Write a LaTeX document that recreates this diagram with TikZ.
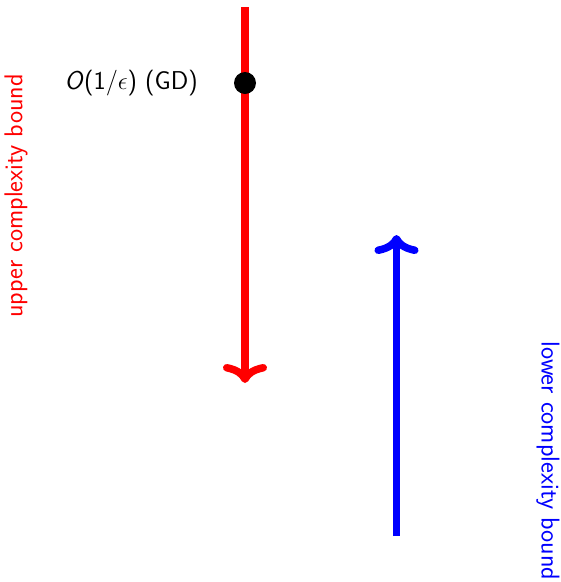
\documentclass[tikz,border=0pt]{standalone}
\usetikzlibrary{arrows.meta}
\begin{document}
\begin{tikzpicture}[x=1pt,y=-1pt,
  bigarrow/.style={line width=7.5pt,-{Computer Modern Rightarrow[width=44pt,length=19pt]}},
  lbl/.style={font=\sffamily\fontsize{25.8}{30}\selectfont,inner sep=0pt}]
\useasboundingbox (0,0) rectangle (561,582);
\coordinate (rtop) at (245,7);
\coordinate (rbot) at (245,383);
\coordinate (bbot) at (396.5,536);
\coordinate (btop) at (396.5,235);
\draw[red,bigarrow] (rtop) -- (rbot);
\draw[blue,bigarrow] (bbot) -- (btop);
\node[circle,fill=black,minimum size=22pt,inner sep=0pt] (dot) at (245,83) {};
\node[lbl,anchor=east] (gd) at (198,83) {\textit{O}(1/$\epsilon$) (GD)};
\node[lbl,red,rotate=90] (ub) at (16,196) {upper complexity bound};
\node[lbl,blue,rotate=-90] (lb) at (548,461) {lower complexity bound};
\end{tikzpicture}
\end{document}
